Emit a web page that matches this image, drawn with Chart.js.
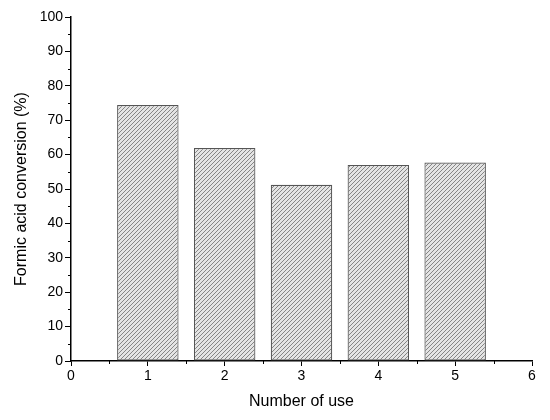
<!DOCTYPE html>
<html>
<head>
<meta charset="utf-8">
<script src="https://cdn.jsdelivr.net/npm/chart.js@4"></script>
<style>
html,body{margin:0;padding:0;background:#fff;}
#c{display:block;}
</style>
</head>
<body>
<canvas id="c" width="550" height="420"></canvas>
<script>
const categories = [1, 2, 3, 4, 5];
const conversion = [74.4, 61.9, 51.2, 57.0, 57.7];
const xTicks = [0, 1, 2, 3, 4, 5, 6];
const yTicks = [0, 10, 20, 30, 40, 50, 60, 70, 80, 90, 100];

function makeHatch() {
  const s = 4;
  const p = document.createElement('canvas');
  p.width = s; p.height = s;
  const g = p.getContext('2d');
  g.fillStyle = '#e4e4e4';
  g.fillRect(0, 0, s, s);
  g.strokeStyle = '#858585';
  g.lineWidth = 1;
  g.beginPath();
  g.moveTo(0, s); g.lineTo(s, 0);
  g.moveTo(-1, 1); g.lineTo(1, -1);
  g.moveTo(s - 1, s + 1); g.lineTo(s + 1, s - 1);
  g.stroke();
  return g.createPattern(p, 'repeat');
}

const FONT = "'Liberation Sans', Arial, sans-serif";

const minorTicks = {
  id: 'minorTicks',
  afterDraw(chart) {
    const ctx = chart.ctx;
    const xs = chart.scales.x, ys = chart.scales.y;
    ctx.save();
    ctx.strokeStyle = '#000';
    ctx.lineWidth = 1;
    ctx.beginPath();
    for (let i = 0; i < yTicks.length - 1; i++) {
      const v = (yTicks[i] + yTicks[i + 1]) / 2;
      const py = Math.round(ys.getPixelForValue(v)) + 0.5;
      ctx.moveTo(ys.right, py); ctx.lineTo(ys.right - 3, py);
    }
    for (let i = 0; i < xTicks.length - 1; i++) {
      const v = (xTicks[i] + xTicks[i + 1]) / 2;
      const px = Math.round(xs.getPixelForValue(v)) + 0.5;
      ctx.moveTo(px, xs.top); ctx.lineTo(px, xs.top + 3);
    }
    ctx.stroke();
    ctx.restore();
  }
};

new Chart(document.getElementById('c'), {
  type: 'bar',
  data: {
    datasets: [{
      data: categories.map((c, i) => ({ x: c, y: conversion[i] })),
      backgroundColor: makeHatch(),
      borderColor: '#555555',
      borderWidth: 1.2,
      borderSkipped: false,
      barPercentage: 0.8,
      categoryPercentage: 1.0
    }]
  },
  plugins: [minorTicks],
  options: {
    responsive: false,
    animation: false,
    layout: { padding: { top: 17, right: 18, left: 0, bottom: 0 } },
    plugins: { legend: { display: false }, tooltip: { enabled: false } },
    scales: {
      x: {
        type: 'linear',
        min: 0, max: 6,
        offset: false,
        afterBuildTicks(s) { s.ticks = xTicks.map(v => ({ value: v })); },
        afterFit(s) { s.height = 59; },
        grid: { drawOnChartArea: false, offset: false, tickLength: 5, color: '#000', tickWidth: 1 },
        border: { color: '#000', width: 1.5 },
        ticks: { color: '#000', font: { family: FONT, size: 14 }, padding: 2, maxRotation: 0 },
        title: { display: true, text: 'Number of use', color: '#000', font: { family: FONT, size: 16 }, padding: { top: 4, bottom: 9 } }
      },
      y: {
        min: 0, max: 100,
        afterBuildTicks(s) { s.ticks = yTicks.map(v => ({ value: v })); },
        afterFit(s) { s.width = 71; },
        grid: { drawOnChartArea: false, tickLength: 6, color: '#000', tickWidth: 1 },
        border: { color: '#000', width: 1.5 },
        ticks: { color: '#000', font: { family: FONT, size: 14 }, padding: 2 },
        title: { display: true, text: 'Formic acid conversion (%)', color: '#000', font: { family: FONT, size: 16 }, padding: { top: 12, bottom: 4 } }
      }
    }
  }
});
</script>
</body>
</html>
